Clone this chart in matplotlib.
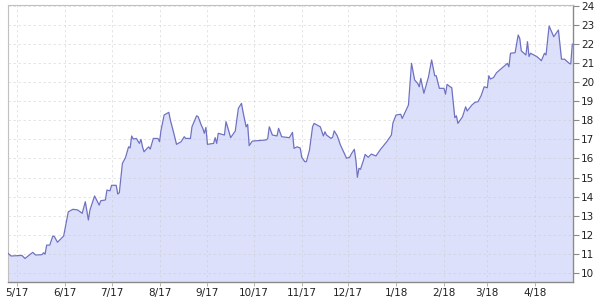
import matplotlib
matplotlib.use("Agg")
import matplotlib.pyplot as plt
import matplotlib.dates as mdates
import pandas as pd

# price series (date, value)
dates = [
    "2017-04-25", "2017-04-27", "2017-05-04", "2017-05-06", "2017-05-11", "2017-05-13",
    "2017-05-17", "2017-05-18", "2017-05-19", "2017-05-20", "2017-05-22", "2017-05-24",
    "2017-05-25", "2017-05-27", "2017-05-31", "2017-06-03", "2017-06-06", "2017-06-09",
    "2017-06-12", "2017-06-14", "2017-06-16", "2017-06-17", "2017-06-20", "2017-06-23",
    "2017-06-24", "2017-06-27", "2017-06-28", "2017-06-30", "2017-07-01", "2017-07-04",
    "2017-07-05", "2017-07-06", "2017-07-08", "2017-07-10", "2017-07-12", "2017-07-13",
    "2017-07-14", "2017-07-15", "2017-07-17", "2017-07-19", "2017-07-20", "2017-07-21",
    "2017-07-22", "2017-07-24", "2017-07-25", "2017-07-26", "2017-07-28", "2017-07-31",
    "2017-08-01", "2017-08-02", "2017-08-04", "2017-08-07", "2017-08-08", "2017-08-10",
    "2017-08-12", "2017-08-15", "2017-08-17", "2017-08-18", "2017-08-21", "2017-08-22",
    "2017-08-25", "2017-08-26", "2017-08-28", "2017-08-29", "2017-08-30", "2017-08-31",
    "2017-09-01", "2017-09-05", "2017-09-06", "2017-09-07", "2017-09-08", "2017-09-12",
    "2017-09-13", "2017-09-14", "2017-09-16", "2017-09-19", "2017-09-21", "2017-09-23",
    "2017-09-24", "2017-09-26", "2017-09-27", "2017-09-28", "2017-09-30", "2017-10-09",
    "2017-10-10", "2017-10-11", "2017-10-13", "2017-10-16", "2017-10-17", "2017-10-19",
    "2017-10-24", "2017-10-26", "2017-10-27", "2017-10-29", "2017-10-31", "2017-11-01",
    "2017-11-03", "2017-11-04", "2017-11-06", "2017-11-08", "2017-11-09", "2017-11-13",
    "2017-11-15", "2017-11-16", "2017-11-17", "2017-11-20", "2017-11-21", "2017-11-22",
    "2017-11-24", "2017-11-26", "2017-11-29", "2017-11-30", "2017-12-02", "2017-12-03",
    "2017-12-05", "2017-12-06", "2017-12-07", "2017-12-08", "2017-12-09", "2017-12-11",
    "2017-12-12", "2017-12-14", "2017-12-16", "2017-12-19", "2017-12-22", "2017-12-26",
    "2017-12-29", "2017-12-30", "2018-01-01", "2018-01-04", "2018-01-05", "2018-01-09",
    "2018-01-11", "2018-01-13", "2018-01-15", "2018-01-16", "2018-01-17", "2018-01-19",
    "2018-01-22", "2018-01-24", "2018-01-26", "2018-01-27", "2018-01-29", "2018-02-01",
    "2018-02-02", "2018-02-03", "2018-02-05", "2018-02-06", "2018-02-08", "2018-02-09",
    "2018-02-10", "2018-02-13", "2018-02-15", "2018-02-16", "2018-02-19", "2018-02-21",
    "2018-02-23", "2018-02-25", "2018-02-27", "2018-03-01", "2018-03-02", "2018-03-03",
    "2018-03-05", "2018-03-07", "2018-03-09", "2018-03-11", "2018-03-14", "2018-03-15",
    "2018-03-16", "2018-03-19", "2018-03-21", "2018-03-22", "2018-03-23", "2018-03-26",
    "2018-03-27", "2018-03-28", "2018-03-29", "2018-04-02", "2018-04-04", "2018-04-05",
    "2018-04-07", "2018-04-08", "2018-04-10", "2018-04-13", "2018-04-16", "2018-04-18",
    "2018-04-20", "2018-04-23", "2018-04-24", "2018-04-25",
]
values = [
    11.02, 10.88, 10.91, 10.75, 11.07, 10.93,
    10.95, 11.05, 10.98, 11.45, 11.45, 11.93,
    11.90, 11.60, 11.93, 13.20, 13.33, 13.30,
    13.12, 13.73, 12.77, 13.29, 14.03, 13.55,
    13.78, 13.82, 14.34, 14.30, 14.59, 14.59,
    14.13, 14.20, 15.74, 16.04, 16.61, 16.55,
    17.18, 17.02, 17.05, 16.79, 17.00, 16.61,
    16.35, 16.53, 16.61, 16.49, 17.05, 17.05,
    16.88, 17.49, 18.28, 18.42, 18.02, 17.40,
    16.74, 16.88, 17.14, 17.05, 17.05, 17.66,
    18.24, 18.19, 17.75, 17.58, 17.32, 17.63,
    16.74, 16.79, 17.09, 16.79, 17.32, 17.23,
    17.93, 17.66, 17.09, 17.44, 18.63, 18.89,
    18.45, 17.66, 17.79, 16.67, 16.91, 16.97,
    17.05, 17.66, 17.23, 17.18, 17.58, 17.14,
    17.09, 17.37, 16.53, 16.61, 16.55, 16.06,
    15.83, 15.83, 16.44, 17.66, 17.84, 17.66,
    17.18, 17.40, 17.23, 17.05, 17.12, 17.45,
    17.18, 16.71, 16.18, 16.01, 16.06, 16.23,
    16.48, 15.92, 15.01, 15.48, 15.43, 15.92,
    16.21, 16.06, 16.23, 16.13, 16.48, 16.88,
    17.23, 17.87, 18.28, 18.32, 18.10, 18.80,
    20.99, 20.12, 19.94, 19.76, 20.20, 19.42,
    20.29, 21.17, 20.34, 20.34, 19.68, 19.68,
    19.37, 19.89, 19.76, 19.72, 18.14, 18.24,
    17.84, 18.19, 18.71, 18.49, 18.80, 18.94,
    18.98, 19.29, 19.76, 19.71, 20.34, 20.17,
    20.24, 20.50, 20.64, 20.78, 20.99, 20.81,
    21.52, 21.55, 22.48, 22.30, 21.65, 21.43,
    22.13, 21.35, 21.52, 21.35, 21.21, 21.13,
    21.52, 21.43, 22.95, 22.39, 22.74, 21.21,
    21.21, 20.99, 20.96, 22.00,
]

month_ticks = ["2017-05-01", "2017-06-01", "2017-07-01", "2017-08-01", "2017-09-01",
               "2017-10-01", "2017-11-01", "2017-12-01", "2018-01-01", "2018-02-01",
               "2018-03-01", "2018-04-01"]
month_labels = ["5/17", "6/17", "7/17", "8/17", "9/17", "10/17", "11/17", "12/17",
                "1/18", "2/18", "3/18", "4/18"]
y_ticks = list(range(10, 25))

x = pd.to_datetime(dates)

fig = plt.figure(figsize=(6, 3), dpi=100)
ax = fig.add_axes([8 / 600, 17.7 / 300, 564.7 / 600, 277.6 / 300])

ax.fill_between(x, values, 9.5, color="#dde0fa", zorder=1, linewidth=0)
ax.plot(x, values, color="#6f72c2", linewidth=0.9, zorder=3)

ax.set_xlim(pd.Timestamp("2017-04-25"), pd.Timestamp("2018-04-25 06:00"))
ax.set_ylim(9.5, 24.07)

ax.set_xticks(pd.to_datetime(month_ticks))
ax.set_xticklabels(month_labels)
ax.set_yticks(y_ticks)
ax.yaxis.tick_right()

ax.grid(True, color="#cccccc", linestyle=(0, (3, 3)), linewidth=0.6, alpha=0.6, zorder=2)
ax.set_axisbelow(False)

for side in ["top", "left"]:
    ax.spines[side].set_color("#c0c0c0")
for side in ["bottom", "right"]:
    ax.spines[side].set_color("#8a8a8a")
    ax.spines[side].set_linewidth(1.0)

ax.tick_params(axis="y", direction="out", length=4, width=0.8, color="#8a8a8a",
               labelsize=7.5, pad=2, labelcolor="#222222")
ax.tick_params(axis="x", direction="out", length=3, width=0.6, color="#aaaaaa",
               labelsize=7.5, pad=1, labelcolor="#222222")

fig.savefig("out.png", dpi=100)
